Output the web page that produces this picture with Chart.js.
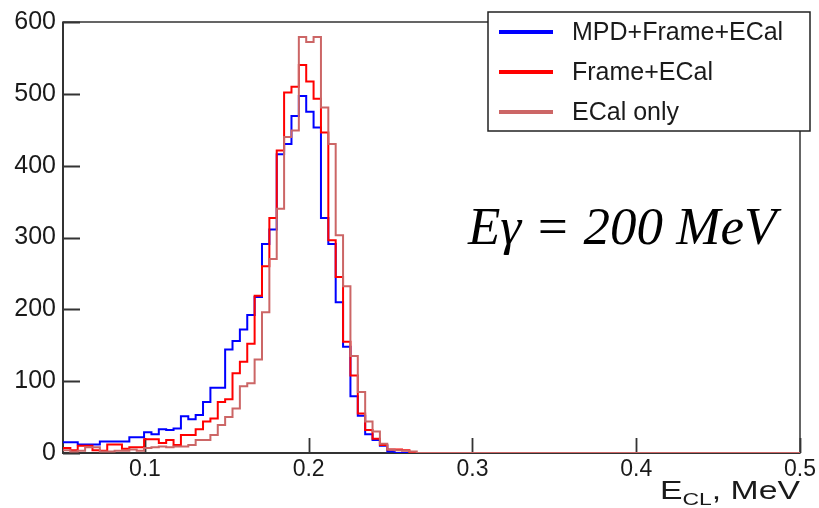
<!DOCTYPE html>
<html>
<head>
<meta charset="utf-8">
<script src="https://cdn.jsdelivr.net/npm/chart.js@4.4.1/dist/chart.umd.min.js"></script>
<style>
  html, body { margin: 0; padding: 0; background: #fff; }
  #wrap { width: 819px; height: 508px; }
</style>
</head>
<body>
<div id="wrap"><canvas id="chart" width="819" height="508"></canvas></div>
<script>
// histogram: 100 bins of 0.0045 from 0.05 to 0.5 (bins above ~0.27 are empty)
const BIN_LO = 0.05;
const BIN_W = 0.0045;
const X_MIN = 0.05;
const X_MAX = 0.5;
const Y_MIN = 0;
const Y_MAX = 600;
const X_TICKS = [0.1, 0.2, 0.3, 0.4, 0.5];
const Y_TICKS = [0, 100, 200, 300, 400, 500, 600];

const LABELS = ['MPD+Frame+ECal', 'Frame+ECal', 'ECal only'];

// counts per bin, starting at 0.05
const COUNTS_MPD = [
    15, 15, 12, 12, 12, 16, 16, 16, 16, 22,
    22, 29, 26, 33, 32, 34, 51, 47, 53, 71,
    91, 91, 144, 156, 172, 192, 217, 291, 311, 416,
    430, 469, 497, 475, 453, 327, 291, 210, 148, 79,
    52, 26, 18, 10, 2, 0, 0, 0, 0, 0
];
const COUNTS_FRAME = [
    7, 4, 10, 10, 4, 3, 12, 12, 6, 8,
    8, 19, 19, 14, 18, 11, 25, 25, 33, 44,
    48, 71, 75, 111, 127, 152, 219, 260, 327, 421,
    502, 510, 540, 517, 493, 446, 296, 245, 155, 108,
    55, 32, 20, 11, 5, 5, 4, 0, 0, 0
];
const COUNTS_ECAL = [
    4, 2, 3, 8, 8, 2, 2, 3, 3, 5,
    3, 7, 8, 9, 8, 9, 9, 11, 18, 18,
    25, 39, 50, 62, 93, 97, 130, 196, 270, 340,
    440, 449, 579, 572, 579, 481, 430, 303, 232, 135,
    85, 44, 30, 13, 5, 4, 3, 2, 0, 0
];

const COLORS = {
    mpd: '#0000ff',
    frame: '#ff0000',
    ecal: '#cc6666',
    axis: '#333333',
    text: '#1a1a1a'
};

const SANS = '"Liberation Sans", Arial, sans-serif';

// points at the left edge of every bin, closed at the right end of the axis
function toSteps(counts) {
    const pts = counts.map((c, i) => ({ x: BIN_LO + i * BIN_W, y: c }));
    pts.push({ x: X_MAX, y: 0 });
    return pts;
}

function histDataset(label, counts, color, order) {
    return {
        label,
        data: toSteps(counts),
        borderColor: color,
        backgroundColor: color,
        borderWidth: 2,
        pointRadius: 0,
        stepped: 'before',
        fill: false,
        order
    };
}

// ROOT draws its text a little wide; stretch horizontally to a given width
function wideText(ctx, parts, xRight, width) {
    let natural = 0;
    parts.forEach(p => { ctx.font = p.font; natural += ctx.measureText(p.text).width; });
    const sx = width / natural;
    ctx.save();
    ctx.translate(xRight - width, 0);
    ctx.scale(sx, 1);
    let tx = 0;
    parts.forEach(p => {
        ctx.font = p.font;
        ctx.fillText(p.text, tx, p.y);
        tx += ctx.measureText(p.text).width;
    });
    ctx.restore();
}

// ROOT style frame, inner ticks, legend box and texts
const rootFrame = {
    id: 'rootFrame',
    beforeDatasetsDraw(chart) {
        const { ctx, chartArea: a, scales: { x, y } } = chart;
        ctx.save();
        ctx.strokeStyle = COLORS.axis;
        ctx.lineWidth = 1.5;
        ctx.strokeRect(a.left, a.top, a.right - a.left, a.bottom - a.top);
        ctx.lineWidth = 2;
        ctx.beginPath();
        ctx.moveTo(a.left, a.top);
        ctx.lineTo(a.left, a.bottom);
        ctx.lineTo(a.right, a.bottom);
        ctx.stroke();
        ctx.lineWidth = 1.8;
        ctx.beginPath();
        Y_TICKS.forEach(v => {
            const py = Math.round(y.getPixelForValue(v)) + 0.5;
            ctx.moveTo(a.left, py);
            ctx.lineTo(a.left + 17, py);
        });
        X_TICKS.forEach(v => {
            const px = Math.round(x.getPixelForValue(v)) + 0.5;
            ctx.moveTo(px, a.bottom);
            ctx.lineTo(px, a.bottom - 15);
        });
        ctx.stroke();
        ctx.restore();
    },
    afterDraw(chart) {
        const { ctx } = chart;
        ctx.save();

        // legend
        const box = { x: 488, y: 12, w: 322, h: 119 };
        ctx.fillStyle = '#ffffff';
        ctx.fillRect(box.x, box.y, box.w, box.h);
        ctx.strokeStyle = '#222222';
        ctx.lineWidth = 1.5;
        ctx.strokeRect(box.x, box.y, box.w, box.h);
        const entryColors = [COLORS.mpd, COLORS.frame, COLORS.ecal];
        ctx.font = '25px ' + SANS;
        ctx.textBaseline = 'middle';
        ctx.textAlign = 'left';
        LABELS.forEach((label, i) => {
            const ly = 32 + i * 40;
            ctx.strokeStyle = entryColors[i];
            ctx.lineWidth = 4;
            ctx.beginPath();
            ctx.moveTo(499, ly);
            ctx.lineTo(553, ly);
            ctx.stroke();
            ctx.fillStyle = COLORS.text;
            ctx.fillText(label, 572, ly + 1);
        });

        // beam energy note
        ctx.fillStyle = '#000000';
        ctx.textBaseline = 'alphabetic';
        ctx.font = 'italic 53px "Liberation Serif", "Times New Roman", serif';
        ctx.fillText('E\u03b3 = 200 MeV', 468, 244);

        // x axis title E_CL, MeV (right aligned to the axis end)
        ctx.fillStyle = COLORS.text;
        wideText(ctx, [
            { text: 'E', font: '25px ' + SANS, y: 499 },
            { text: 'CL', font: '17px ' + SANS, y: 505 },
            { text: ', MeV', font: '25px ' + SANS, y: 499 }
        ], 800, 140);

        ctx.restore();
    }
};

new Chart(document.getElementById('chart'), {
    type: 'line',
    data: {
        datasets: [
            histDataset(LABELS[0], COUNTS_MPD, COLORS.mpd, 3),
            histDataset(LABELS[1], COUNTS_FRAME, COLORS.frame, 2),
            histDataset(LABELS[2], COUNTS_ECAL, COLORS.ecal, 1)
        ]
    },
    options: {
        responsive: false,
        animation: false,
        devicePixelRatio: 1,
        layout: { padding: { top: 21, right: 19, left: 0, bottom: 0 } },
        plugins: { legend: { display: false }, tooltip: { enabled: false } },
        scales: {
            x: {
                type: 'linear',
                min: X_MIN,
                max: X_MAX,
                grid: { display: false, drawTicks: false },
                border: { display: false },
                afterBuildTicks: s => { s.ticks = X_TICKS.map(v => ({ value: v })); },
                afterFit: s => { s.height = 55; },
                ticks: {
                    color: COLORS.text,
                    font: { family: SANS, size: 23 },
                    padding: 3,
                    maxRotation: 0,
                    callback: v => Number(v).toFixed(1)
                }
            },
            y: {
                type: 'linear',
                min: Y_MIN,
                max: Y_MAX,
                grid: { display: false, drawTicks: false },
                border: { display: false },
                afterBuildTicks: s => { s.ticks = Y_TICKS.map(v => ({ value: v })); },
                afterFit: s => { s.width = 63; },
                ticks: {
                    color: COLORS.text,
                    font: { family: SANS, size: 25 },
                    padding: 7
                }
            }
        }
    },
    plugins: [rootFrame]
});
</script>
</body>
</html>
